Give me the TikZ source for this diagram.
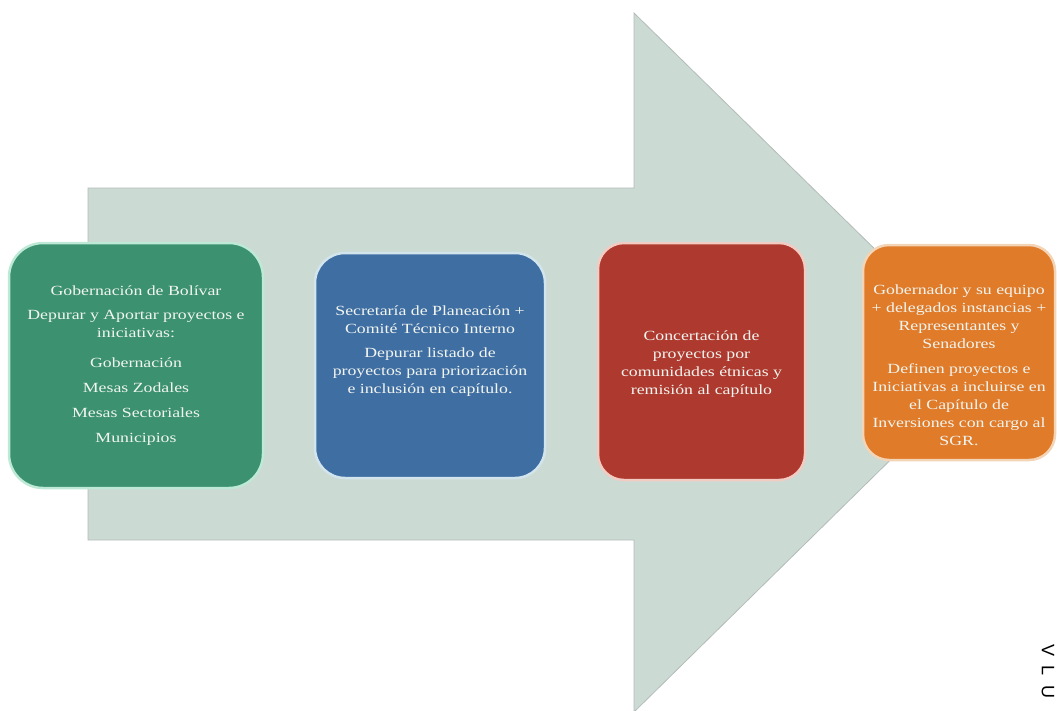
\documentclass[tikz,border=0pt]{standalone}
\usepackage{fontspec}
\setmainfont[FakeStretch=1.27]{Liberation Serif}
\newfontfamily\wmfont{Liberation Sans}
\definecolor{arrowfill}{HTML}{CCDAD4}
\definecolor{arrowedge}{HTML}{B3BCB8}
\definecolor{gfill}{HTML}{3B9170}
\definecolor{gedge}{HTML}{BDE9D6}
\definecolor{bfill}{HTML}{3F6EA3}
\definecolor{bedge}{HTML}{D3E5EC}
\definecolor{rfill}{HTML}{AE3A2F}
\definecolor{redge}{HTML}{F2CBC3}
\definecolor{ofill}{HTML}{E07B2A}
\definecolor{oedge}{HTML}{F3D4B6}
\definecolor{txtc}{HTML}{F2F5F0}
\tikzset{
  card/.style={draw, line width=2.5pt, inner sep=0pt},
  cardtxt/.style={align=center, text=txtc, inner sep=0pt,
    font=\fontsize{14}{18}\selectfont},
}
\begin{document}
\begin{tikzpicture}[x=1pt,y=-1pt]
\useasboundingbox (0,0) rectangle (1057,710);
% big arrow
\fill[arrowfill, draw=arrowedge, line width=0.8pt]
  (88,188) -- (634,188) -- (634,13) -- (990,362) -- (634,712) -- (634,540) -- (88,540) -- cycle;
% cards
\node[card, fill=gfill, draw=gedge, rounded corners=34pt,
  minimum width=254pt, minimum height=245pt] (g) at (136,365.5) {};
\node[card, fill=bfill, draw=bedge, rounded corners=30pt,
  minimum width=230pt, minimum height=225pt] (b) at (430,365.5) {};
\node[card, fill=rfill, draw=redge, rounded corners=26pt,
  minimum width=207pt, minimum height=237pt] (r) at (701.5,361.5) {};
\node[card, fill=ofill, draw=oedge, rounded corners=26pt,
  minimum width=192pt, minimum height=215pt] (o) at (959,352.5) {};
% texts
\node[cardtxt] (gt) at (136,366) {Gobernación de Bolívar\\[6pt]
  \fontsize{14}{15}\selectfont Depurar y Aportar proyectos e\\ iniciativas:\\[12pt]
  Gobernación\\[7pt] Mesas Zodales\\[7pt] Mesas Sectoriales\\[7pt] Municipios};
\node[cardtxt] (bt) at (430,351) {Secretaría de Planeación +\\ Comité Técnico Interno\\[6pt]
  Depurar listado de\\ proyectos para priorización\\ e inclusión en capítulo.};
\node[cardtxt] (rt) at (701.5,364.5) {Concertación de\\ proyectos por\\
  comunidades étnicas y\\ remisión al capítulo};
\node[cardtxt] (ot) at (959,365) {Gobernador y su equipo\\ + delegados instancias +\\
  Representantes y\\ Senadores\\[7pt] Definen proyectos e\\ Iniciativas a incluirse en\\
  el Capítulo de\\ Inversiones con cargo al\\ SGR.};
% mark at the lower right
\node[anchor=west, rotate=-90, inner sep=0pt, font=\wmfont\fontsize{18}{18}\selectfont] (wm) at (1048,644) {V\hspace{9pt}L\hspace{10pt}U};
\end{tikzpicture}
\end{document}
